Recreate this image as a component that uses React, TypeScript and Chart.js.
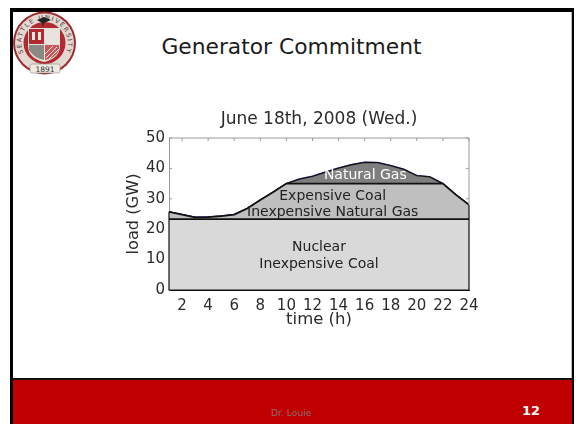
import React, { useEffect, useRef } from "react";
import { Chart, registerables } from "chart.js";

Chart.register(...registerables);

const hours = [1, 2, 3, 4, 5, 6, 7, 8, 9, 10, 11, 12, 13, 14, 15, 16, 17, 18, 19, 20, 21, 22, 23, 24];
const totalLoad = [25.7, 24.8, 23.9, 24.0, 24.3, 24.8, 26.8, 29.6, 32.2, 35.0, 36.5, 37.4, 38.8, 40.1, 41.2, 42.0, 41.9, 40.9, 39.7, 37.6, 37.2, 35.0, 31.3, 28.0];
const baseLoad = [23.3, 23.3, 23.3, 23.3, 23.3, 23.3, 23.3, 23.3, 23.3, 23.3, 23.3, 23.3, 23.3, 23.3, 23.3, 23.3, 23.3, 23.3, 23.3, 23.3, 23.3, 23.3, 23.3, 23.3];
const midLoad = [25.7, 24.8, 23.9, 24.0, 24.3, 24.8, 26.8, 29.6, 32.2, 35.0, 35.0, 35.0, 35.0, 35.0, 35.0, 35.0, 35.0, 35.0, 35.0, 35.0, 35.0, 35.0, 31.3, 28.0];
const xTicks = [2, 4, 6, 8, 10, 12, 14, 16, 18, 20, 22, 24];
const yTicks = [0, 10, 20, 30, 40, 50];
const regionLabels = [
  { text: "Natural Gas", x: 16.05, y: 37.6, color: "#ffffff" },
  { text: "Expensive Coal", x: 13.55, y: 30.9, color: "#222222" },
  { text: "Inexpensive Natural Gas", x: 13.55, y: 25.6, color: "#222222" },
  { text: "Nuclear", x: 12.5, y: 14.1, color: "#222222" },
  { text: "Inexpensive Coal", x: 12.5, y: 8.5, color: "#222222" },
];

const FONT = '"DejaVu Sans", Verdana, sans-serif';
const INK = "#2b2b2b";

const overlay = {
  id: "overlay",
  afterDatasetsDraw(chart: any) {
    const { ctx, chartArea: a, scales } = chart;
    const x = scales.x;
    const y = scales.y;
    ctx.save();
    ctx.strokeStyle = "#9a9a9a";
    ctx.lineWidth = 1;
    ctx.beginPath();
    ctx.moveTo(a.left, a.top);
    ctx.lineTo(a.right, a.top);
    ctx.lineTo(a.right, y.getPixelForValue(totalLoad[totalLoad.length - 1]));
    xTicks.forEach((t) => {
      const px = x.getPixelForValue(t);
      ctx.moveTo(px, a.top);
      ctx.lineTo(px, a.top + 3);
    });
    yTicks.forEach((t) => {
      const py = y.getPixelForValue(t);
      if (t > 20) {
        ctx.moveTo(a.left, py);
        ctx.lineTo(a.left + 3, py);
        ctx.moveTo(a.right, py);
        ctx.lineTo(a.right - 3, py);
      }
    });
    ctx.stroke();
    ctx.strokeStyle = "#111111";
    ctx.lineWidth = 1.2;
    ctx.beginPath();
    ctx.moveTo(a.left, y.getPixelForValue(totalLoad[0]));
    ctx.lineTo(a.left, a.bottom);
    ctx.lineTo(a.right, a.bottom);
    ctx.lineTo(a.right, y.getPixelForValue(totalLoad[totalLoad.length - 1]));
    ctx.stroke();
    ctx.font = `14px ${FONT}`;
    ctx.textAlign = "center";
    ctx.textBaseline = "middle";
    regionLabels.forEach((l) => {
      ctx.fillStyle = l.color;
      ctx.fillText(l.text, x.getPixelForValue(l.x), y.getPixelForValue(l.y));
    });
    ctx.restore();
  },
};

function Logo() {
  return (
    <svg width="70" height="72" viewBox="0 0 70 72" style={{ position: "absolute", left: 10, top: 8 }}>
      <circle cx="34.5" cy="35" r="31.5" fill="#a02a30" />
      <circle cx="34.5" cy="35" r="29.5" fill="#e4d8d2" />
      <circle cx="34.5" cy="35" r="21" fill="#b02a30" />
      <defs>
        <path id="ring" d="M 13.5 45 A 23.26 23.26 0 1 1 55.5 45" />
      </defs>
      <text fontFamily={FONT} fontSize="6.4" fill="#4a3a3a">
        <textPath href="#ring" textLength="92">SEATTLE UNIVERSITY</textPath>
      </text>
      <path d="M18 20 H50 V38 Q50 50 34 54 Q18 50 18 38 Z" fill="#e6e0da" />
      <rect x="19" y="21" width="15" height="15" fill="#b02a30" />
      <rect x="35" y="21" width="14" height="15" fill="#e8e3dc" />
      <rect x="22" y="24" width="3" height="8" fill="#f2e8e0" />
      <rect x="28" y="24" width="3" height="8" fill="#f2e8e0" />
      <path d="M19 37 H34 V52 Q24 50 19 42 Z" fill="#8a8a84" />
      <path d="M35 37 H49 V42 Q46 50 35 52 Z" fill="#c8595c" />
      <path d="M36 50 L47 39 M39 51 L49 41 M35 46 L43 38" stroke="#efe4dc" strokeWidth="1" />
      <path d="M27 12 l7 -3 l7 3 l-7 3 l-1 4 l-1 -4 z" fill="#222" />
      <rect x="20" y="56" width="30" height="9" rx="2" fill="#efeae2" stroke="#888" strokeWidth="0.6" />
      <text x="35" y="63.5" textAnchor="middle" fontFamily={FONT} fontSize="7.5" fill="#333">1891</text>
    </svg>
  );
}

export default function App() {
  const ref = useRef<HTMLCanvasElement>(null);

  useEffect(() => {
    document.body.style.margin = "0";
    const chart = new Chart(ref.current as HTMLCanvasElement, {
      type: "line",
      data: {
        labels: hours,
        datasets: [
          {
            label: "Nuclear / Inexpensive Coal",
            data: hours.map((h, i) => ({ x: h, y: baseLoad[i] })),
            borderColor: "#111111",
            borderWidth: 1.6,
            backgroundColor: "#d9d9d9",
            fill: "origin",
            pointRadius: 0,
            tension: 0,
          },
          {
            label: "Expensive Coal / Inexpensive Natural Gas",
            data: hours.map((h, i) => ({ x: h, y: midLoad[i] })),
            borderColor: "#111111",
            borderWidth: 1.8,
            backgroundColor: "#bfbfbf",
            fill: "-1",
            pointRadius: 0,
            tension: 0,
          },
          {
            label: "Natural Gas",
            data: hours.map((h, i) => ({ x: h, y: totalLoad[i] })),
            borderColor: "#111111",
            borderWidth: 1.3,
            backgroundColor: "#7f7f7f",
            fill: "-1",
            pointRadius: 0,
            tension: 0,
          },
          {
            label: "Load",
            data: hours.map((h, i) => ({ x: h, y: totalLoad[i] + 0.12 })),
            borderColor: "#1a1ac8",
            borderWidth: 0.8,
            fill: false,
            pointRadius: 0,
            tension: 0,
          },
        ],
      },
      options: {
        animation: false,
        responsive: false,
        layout: { padding: { left: 124, right: 109, top: 106, bottom: 94 } },
        plugins: {
          legend: { display: false },
          tooltip: { enabled: false },
          title: {
            display: true,
            text: "June 18th, 2008 (Wed.)",
            color: INK,
            fullSize: false,
            font: { family: FONT, size: 17, weight: "normal" },
            padding: { top: 3, bottom: 8.6 },
          },
        },
        scales: {
          x: {
            type: "linear",
            min: 1,
            max: 24,
            afterBuildTicks(scale: any) {
              scale.ticks = xTicks.map((value) => ({ value }));
            },
            afterFit(scale: any) {
              scale.height = 40;
            },
            grid: { display: false, drawTicks: false },
            border: { display: true, color: "#111111" },
            ticks: { color: INK, font: { family: FONT, size: 15 }, maxRotation: 0, autoSkip: false, padding: 7 },
            title: { display: true, text: "time (h)", color: INK, font: { family: FONT, size: 16.5 }, padding: 0 },
          },
          y: {
            min: 0,
            max: 50,
            afterBuildTicks(scale: any) {
              scale.ticks = yTicks.map((value) => ({ value }));
            },
            afterFit(scale: any) {
              scale.width = 45;
            },
            grid: { display: false, drawTicks: false },
            border: { display: true, color: "#9a9a9a" },
            ticks: { color: INK, font: { family: FONT, size: 15 }, padding: 4 },
            title: { display: true, text: "load (GW)", color: INK, font: { family: FONT, size: 16.2 }, padding: 0 },
          },
        },
      } as any,
      plugins: [overlay],
    } as any);
    return () => chart.destroy();
  }, []);

  return (
    <div style={{ position: "relative", width: 578, height: 424, overflow: "hidden", background: "#fff", filter: "blur(0.35px)" }}>
      <div style={{ position: "absolute", left: 10, top: 8, width: 564, height: 416, borderLeft: "3px solid #000", borderTop: "4px solid #000", borderRight: "2px solid #000", boxSizing: "border-box" }} />
      <div style={{ position: "absolute", left: 571, top: 12, width: 1, height: 366, background: "#bbb" }} />
      <div style={{ position: "absolute", left: 13, top: 378, width: 559, height: 2, background: "#111" }} />
      <div style={{ position: "absolute", left: 13, top: 380, width: 559, height: 44, background: "#c00000" }} />
      <div style={{ position: "absolute", width: 578, textAlign: "center", left: 2.5, top: 33, fontFamily: FONT, fontSize: 21.8, color: "#1c1c1c", lineHeight: "28px" }}>Generator Commitment</div>
      <div style={{ position: "absolute", left: 271, top: 407, fontFamily: FONT, fontSize: 9.2, color: "#8a6a6a" }}>Dr. Louie</div>
      <div style={{ position: "absolute", left: 522, top: 403, fontFamily: FONT, fontSize: 13, fontWeight: 700, color: "#fff" }}>12</div>
      <Logo />
      <canvas ref={ref} width={578} height={424} style={{ position: "absolute", left: 0, top: 0, display: "block" }} />
    </div>
  );
}
